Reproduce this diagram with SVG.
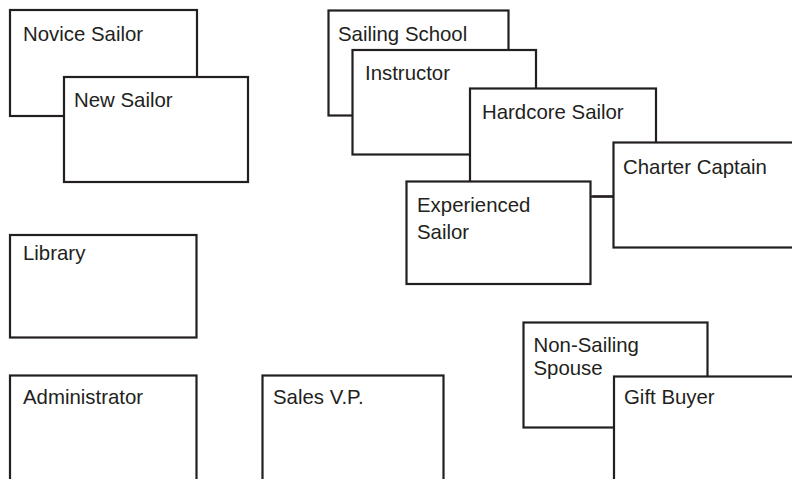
<svg xmlns="http://www.w3.org/2000/svg" width="792" height="479" viewBox="0 0 792 479">
<style>
.box{fill:#fff;stroke:#231f20;stroke-width:2.2}
.lbl{font-family:"Liberation Sans",Arial,sans-serif;font-size:20.4px;fill:#231f20}
.conn{stroke:#231f20;stroke-width:2.2;fill:none}
</style>
<rect width="792" height="479" fill="#fff"/>
<g id="novice-sailor"><rect class="box" x="10" y="10" width="187" height="106"/><text class="lbl" x="23" y="41">Novice Sailor</text></g>
<g id="new-sailor"><rect class="box" x="64" y="77" width="184" height="105"/><text class="lbl" x="74" y="107">New Sailor</text></g>
<g id="sailing-school"><rect class="box" x="328.5" y="10.5" width="180" height="105"/><text class="lbl" x="338" y="41">Sailing School</text></g>
<g id="instructor"><rect class="box" x="352.5" y="50" width="183.5" height="104.5"/><text class="lbl" x="365" y="80">Instructor</text></g>
<g id="hardcore-sailor"><rect class="box" x="470" y="88.5" width="186" height="108"/><text class="lbl" x="482" y="119">Hardcore Sailor</text></g>
<g id="charter-captain"><rect class="box" x="613.5" y="142.5" width="200" height="105"/><text class="lbl" x="623" y="173.5">Charter Captain</text></g>
<g id="experienced-sailor"><rect class="box" x="406.5" y="181.5" width="184" height="102.5"/><text class="lbl" x="417" y="212">Experienced</text><text class="lbl" x="417" y="239">Sailor</text></g>
<g id="connectors"><line class="conn" x1="592.5" y1="196.5" x2="613.5" y2="196.5"/></g>
<g id="library"><rect class="box" x="10" y="235" width="186.5" height="102.5"/><text class="lbl" x="23" y="259.5">Library</text></g>
<g id="administrator"><rect class="box" x="10" y="375.5" width="186.5" height="130"/><text class="lbl" x="23" y="403.5">Administrator</text></g>
<g id="sales-vp"><rect class="box" x="262.5" y="375.5" width="181" height="130"/><text class="lbl" x="273" y="403.5">Sales V.P.</text></g>
<g id="non-sailing-spouse"><rect class="box" x="523.5" y="322.5" width="184" height="105"/><text class="lbl" x="533.5" y="351.5">Non-Sailing</text><text class="lbl" x="533.5" y="375">Spouse</text></g>
<g id="gift-buyer"><rect class="box" x="614" y="376.5" width="200" height="130"/><text class="lbl" x="624" y="403.5">Gift Buyer</text></g>
</svg>
